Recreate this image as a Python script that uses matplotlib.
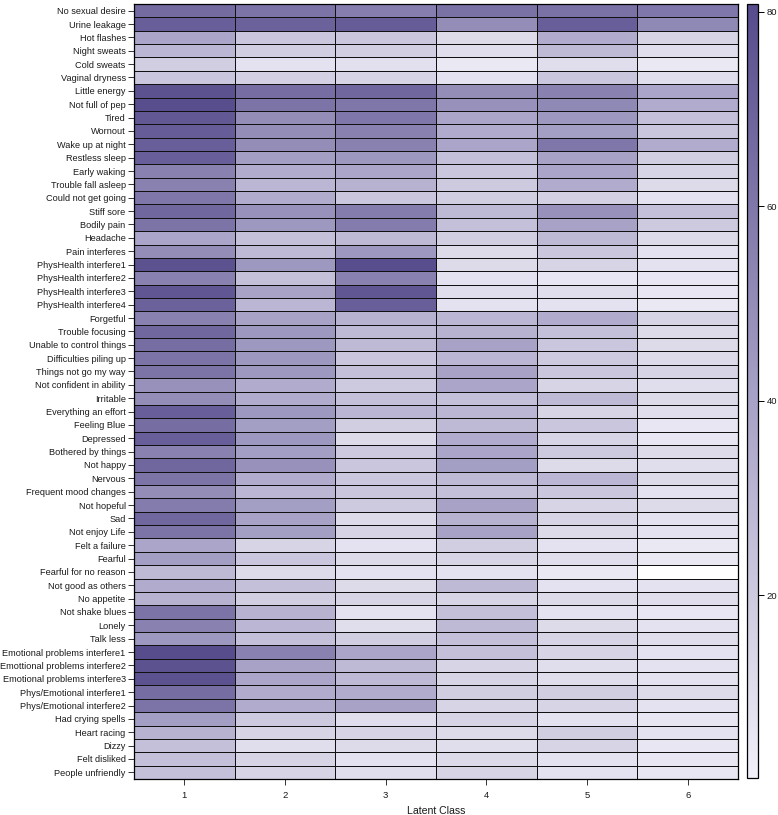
import numpy as np
import matplotlib
matplotlib.use("Agg")
import matplotlib.pyplot as plt
from matplotlib.colors import LinearSegmentedColormap

plt.rcParams['font.family'] = ['Liberation Sans', 'DejaVu Sans']

items = [
    "No sexual desire", "Urine leakage", "Hot flashes", "Night sweats", "Cold sweats",
    "Vaginal dryness", "Little energy", "Not full of pep", "Tired", "Wornout",
    "Wake up at night", "Restless sleep", "Early waking", "Trouble fall asleep",
    "Could not get going", "Stiff sore", "Bodily pain", "Headache", "Pain interferes",
    "PhysHealth interfere1", "PhysHealth interfere2", "PhysHealth interfere3",
    "PhysHealth interfere4", "Forgetful", "Trouble focusing", "Unable to control things",
    "Difficulties piling up", "Things not go my way", "Not confident in ability",
    "Irritable", "Everything an effort", "Feeling Blue", "Depressed",
    "Bothered by things", "Not happy", "Nervous", "Frequent mood changes",
    "Not hopeful", "Sad", "Not enjoy Life", "Felt a failure", "Fearful",
    "Fearful for no reason", "Not good as others", "No appetite", "Not shake blues",
    "Lonely", "Talk less", "Emotional problems interfere1",
    "Emottional problems interfere2", "Emotional problems interfere3",
    "Phys/Emotional interfere1", "Phys/Emotional interfere2", "Had crying spells",
    "Heart racing", "Dizzy", "Felt disliked", "People unfriendly",
]

classes = ["1", "2", "3", "4", "5", "6"]

class1 = [66, 72, 38, 30, 18, 22, 78, 80, 75, 73, 72, 72, 55, 55, 60, 68, 62, 38, 50,
          78, 55, 76, 70, 55, 68, 65, 62, 62, 48, 50, 72, 65, 72, 55, 68, 62, 50, 58,
          68, 62, 38, 42, 28, 35, 32, 62, 55, 45, 82, 78, 78, 65, 62, 42, 32, 25, 25, 25]
class2 = [62, 70, 22, 18, 8, 17, 65, 62, 50, 50, 50, 42, 35, 30, 35, 48, 45, 25, 28,
          45, 25, 40, 30, 40, 45, 45, 45, 45, 35, 35, 45, 42, 45, 42, 48, 35, 30, 42,
          40, 42, 15, 22, 12, 25, 18, 32, 30, 25, 55, 40, 38, 35, 35, 20, 15, 10, 15, 15]
class3 = [57, 73, 22, 18, 9, 15, 68, 60, 60, 55, 55, 45, 38, 32, 22, 58, 58, 28, 45,
          80, 55, 76, 72, 32, 28, 28, 22, 25, 20, 25, 30, 18, 12, 20, 22, 22, 22, 20,
          12, 15, 8, 12, 8, 12, 15, 8, 10, 18, 38, 28, 28, 35, 40, 10, 15, 12, 8, 10]
class4 = [63, 50, 12, 10, 5, 8, 50, 48, 38, 35, 38, 25, 22, 20, 18, 28, 25, 18, 12,
          12, 8, 10, 8, 30, 32, 40, 30, 40, 38, 25, 30, 28, 35, 38, 42, 28, 25, 40,
          32, 40, 18, 15, 8, 28, 15, 25, 28, 25, 25, 15, 15, 18, 15, 15, 12, 10, 12, 15]
class5 = [63, 72, 35, 28, 10, 22, 55, 52, 45, 42, 60, 40, 38, 35, 17, 48, 40, 28, 22,
          15, 6, 10, 8, 35, 25, 22, 20, 22, 15, 28, 15, 22, 15, 20, 12, 30, 22, 15,
          15, 12, 8, 10, 5, 8, 12, 8, 12, 15, 15, 10, 10, 18, 15, 8, 18, 15, 8, 8]
class6 = [60, 52, 15, 10, 5, 10, 38, 35, 25, 22, 35, 18, 15, 12, 8, 25, 20, 12, 8,
          8, 6, 6, 5, 15, 12, 12, 12, 15, 10, 12, 10, 6, 6, 12, 10, 12, 8, 12,
          8, 8, 5, 5, 0, 8, 10, 6, 8, 10, 8, 8, 8, 12, 8, 6, 8, 6, 6, 6]

data = np.array([class1, class2, class3, class4, class5, class6], dtype=float).T

cmap = LinearSegmentedColormap.from_list("purp", ["#f1eff8", "#a5a0c5", "#574c8c"])
cmap.set_under("white")
vmin, vmax = 1.2, 80.8

fig = plt.figure(figsize=(7.78, 8.15), dpi=100)
W, H = 778, 815
ax = fig.add_axes([134 / W, 1 - 779 / H, (738 - 134) / W, (779 - 4) / H])
cax = fig.add_axes([747 / W, 1 - 778 / H, 11 / W, (778 - 4) / H])

nrow, ncol = data.shape
xe = np.arange(ncol + 1) + 0.5
ye = np.arange(nrow + 1) + 0.5
mesh = ax.pcolormesh(xe, ye, data, cmap=cmap, vmin=vmin, vmax=vmax,
                     edgecolor="#111111", linewidth=0.7)
ax.set_xlim(0.5, ncol + 0.5)
ax.set_ylim(nrow + 0.5, 0.5)
ax.set_yticks(np.arange(1, nrow + 1))
ax.set_yticklabels(items, fontsize=6.55, color="#1a1a1a")
ax.set_xticks(np.arange(1, ncol + 1))
ax.set_xticklabels(classes, fontsize=6.8, color="#1a1a1a")
ax.tick_params(axis="y", length=4, width=0.7, color="#333333", pad=2)
ax.tick_params(axis="x", length=4, width=0.7, color="#333333", pad=5)
ax.set_xlabel("Latent Class", fontsize=7.6, labelpad=4, color="#1a1a1a")
for s in ax.spines.values():
    s.set_linewidth(0.9)

cb = fig.colorbar(mesh, cax=cax)
cb.set_ticks([20, 40, 60, 80])
cb.ax.tick_params(labelsize=6.8, length=4, width=0.7, pad=2, labelcolor="#1a1a1a")
cb.outline.set_linewidth(0.9)

fig.savefig("out.png", dpi=100)
